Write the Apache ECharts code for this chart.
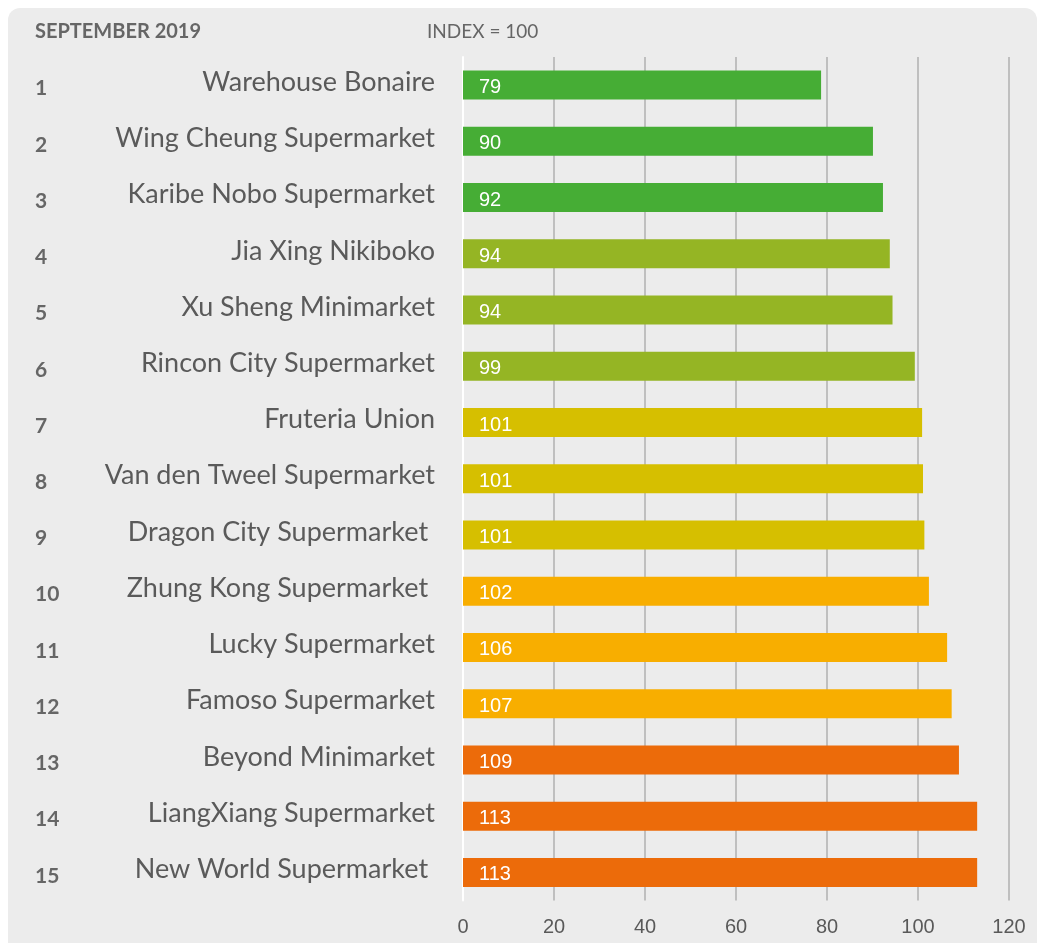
<!DOCTYPE html>
<html>
<head>
<meta charset="utf-8">
<script src="https://cdn.jsdelivr.net/npm/echarts@6/dist/echarts.min.js"></script>
<style>
html,body{margin:0;padding:0;background:#ffffff;}
#chart{width:1045px;height:943px;}
</style>
</head>
<body>
<div id="chart"></div>
<script>
const ranks = ['1','2','3','4','5','6','7','8','9','10','11','12','13','14','15'];
const stores = [
  'Warehouse Bonaire',
  'Wing Cheung Supermarket',
  'Karibe Nobo Supermarket',
  'Jia Xing Nikiboko',
  'Xu Sheng Minimarket',
  'Rincon City Supermarket',
  'Fruteria Union',
  'Van den Tweel Supermarket',
  'Dragon City Supermarket ',
  'Zhung Kong Supermarket ',
  'Lucky Supermarket',
  'Famoso Supermarket',
  'Beyond Minimarket',
  'LiangXiang Supermarket',
  'New World Supermarket '
];
const values = [78.7, 90.1, 92.3, 93.8, 94.4, 99.3, 100.9, 101.1, 101.4, 102.4, 106.4, 107.4, 109.0, 113.0, 113.0];
const tiers = [0,0,0,1,1,1,2,2,2,3,3,3,4,4,4];
const xTicks = [0, 20, 40, 60, 80, 100, 120];
const headerLeft = 'SEPTEMBER 2019';
const headerRight = 'INDEX = 100';

const palette = ['#46ad35', '#95b524', '#d6bf00', '#f8ae00', '#ec6b0a'];

const chart = echarts.init(document.getElementById('chart'), null, {renderer: 'canvas'});
const nameFont = 'Lato, "Open Sans", sans-serif';
const numFont = '"Liberation Sans", Arial, sans-serif';

chart.setOption({
  animation: false,
  backgroundColor: 'transparent',
  graphic: [
    {type: 'rect', z: -10, shape: {x: 8, y: 8, width: 1029, height: 980, r: 12}, style: {fill: '#ececec'}},
    {type: 'text', left: 35, top: 22, style: {text: headerLeft, font: 'bold 20px Lato, sans-serif', fill: '#666666'}},
    {type: 'text', left: 427, top: 22, style: {text: headerRight, font: '19px Lato, sans-serif', fill: '#666666'}}
  ],
  grid: {left: 463, right: 36, top: 57, bottom: 42.5, containLabel: false},
  xAxis: {
    type: 'value', min: xTicks[0], max: xTicks[xTicks.length - 1], interval: 20,
    axisLine: {show: false}, axisTick: {show: false},
    splitLine: {show: true, lineStyle: {color: '#b0b0b0', width: 1.5}},
    axisLabel: {color: '#595959', fontSize: 20, fontFamily: numFont, margin: 17}
  },
  yAxis: [
    {
      type: 'category', data: stores, inverse: true,
      axisLine: {show: true, lineStyle: {color: '#ffffff', width: 2}},
      axisTick: {show: false},
      axisLabel: {
        margin: 28,
        formatter: v => '{n|' + v + '}',
        rich: {n: {color: '#5a5a5a', fontSize: 27, fontFamily: nameFont, padding: [0, 0, 6, 0]}}
      }
    },
    {
      type: 'category', data: ranks, inverse: true, position: 'left',
      axisLine: {show: false}, axisTick: {show: false},
      axisLabel: {
        align: 'left', margin: 428,
        formatter: v => '{r|' + v + '}',
        rich: {r: {color: '#666666', fontSize: 21, fontWeight: 'bold', fontFamily: nameFont, padding: [7, 0, 0, 0]}}
      }
    }
  ],
  series: [{
    type: 'bar',
    yAxisIndex: 0,
    barWidth: 29,
    data: values.map((v, i) => ({value: v, itemStyle: {color: palette[tiers[i]]}})),
    label: {
      show: true, position: 'insideLeft', distance: 16,
      formatter: p => '{v|' + Math.round(p.value) + '}',
      rich: {v: {color: '#ffffff', fontSize: 20, fontFamily: numFont, padding: [5, 0, 0, 0]}}
    }
  }]
});
</script>
</body>
</html>
